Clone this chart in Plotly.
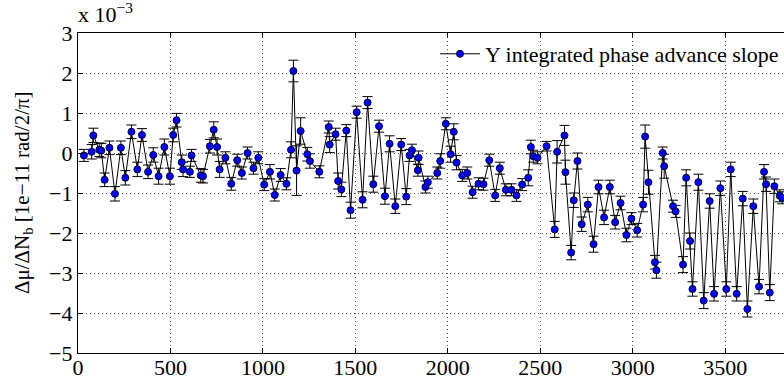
import plotly.graph_objects as go

# x positions (fill-like index) and slope values (units of 1e-3)
x_vals = [32, 74, 83, 115, 126, 144, 170, 200, 232, 256, 289, 321, 346, 379, 407,
          436, 467, 497, 515, 533, 561, 568, 605, 614, 664, 676, 713, 734, 752, 766,
          797, 829, 861, 886, 917, 949, 975, 1007, 1038, 1064, 1096, 1127, 1152, 1165,
          1182, 1204, 1240, 1254, 1305, 1356, 1361, 1393, 1407, 1424, 1451, 1474, 1507,
          1539, 1566, 1597, 1628, 1660, 1685, 1716, 1748, 1775, 1793, 1806, 1838, 1842,
          1879, 1892, 1943, 1959, 1989, 2015, 2032, 2047, 2078, 2105, 2134, 2166, 2193,
          2224, 2256, 2281, 2314, 2344, 2371, 2402, 2435, 2449, 2462, 2485, 2534, 2578,
          2591, 2631, 2636, 2667, 2681, 2701, 2724, 2757, 2788, 2815, 2845, 2876, 2905,
          2934, 2966, 2993, 3024, 3056, 3067, 3085, 3120, 3128, 3162, 3170, 3218, 3232,
          3272, 3289, 3310, 3323, 3355, 3384, 3416, 3440, 3474, 3506, 3530, 3562, 3595,
          3620, 3652, 3683, 3710, 3721, 3741, 3766, 3795, 3808]

y_vals = [-0.06, 0.03, 0.44, 0.08, 0.06, -0.67, 0.13, -1.02, 0.13, -0.62, 0.53, -0.41,
          0.45, -0.47, -0.05, -0.58, 0.15, -0.58, 0.45, 0.82, -0.23, -0.41, -0.47, -0.06,
          -0.56, -0.58, 0.17, 0.58, 0.15, -0.41, -0.12, -0.77, -0.18, -0.50, 0.00, -0.38,
          -0.12, -0.79, -0.47, -1.05, -0.55, -0.77, 0.08, 2.05, -0.44, 0.55, -0.03, -0.20,
          -0.47, 0.65, 0.21, 0.47, -0.70, -0.91, 0.56, -1.43, 1.02, -1.17, 1.26, -0.78,
          0.67, -1.08, 0.23, -1.33, 0.21, -1.09, -0.06, 0.07, -0.43, -0.12, -0.85, -0.73,
          -0.50, -0.20, 0.73, -0.03, 0.53, -0.24, -0.56, -0.50, -0.98, -0.77, -0.78, -0.18,
          -1.06, -0.38, -0.92, -0.92, -1.06, -0.79, -0.62, 0.15, -0.08, -0.12, 0.17, -1.91,
          0.03, 0.44, -0.48, -2.49, -1.18, -0.20, -1.78, -1.29, -2.28, -0.85, -1.61, -0.85,
          -1.73, -1.25, -2.05, -1.64, -1.93, -1.29, 0.41, -0.73, -2.73, -2.93, 0.00, -0.33,
          -1.33, -1.46, -2.79, -0.62, -2.20, -3.40, -0.73, -3.69, -1.20, -3.52, -0.88,
          -3.40, -0.41, -3.52, -1.14, -3.90, -1.33, -3.34, -0.47, -0.78, -3.49, -0.83,
          -1.07, -1.12]

err_vals = [0.15, 0.18, 0.18, 0.17, 0.18, 0.17, 0.17, 0.18, 0.17, 0.18, 0.17, 0.18,
            0.16, 0.17, 0.18, 0.20, 0.20, 0.20, 0.17, 0.17, 0.18, 0.18, 0.14, 0.15,
            0.17, 0.17, 0.17, 0.20, 0.20, 0.20, 0.15, 0.16, 0.15, 0.15, 0.15, 0.15,
            0.15, 0.15, 0.18, 0.15, 0.16, 0.15, 0.20, 0.27, 0.62, 0.33, 0.17, 0.18,
            0.15, 0.15, 0.20, 0.15, 0.20, 0.18, 0.15, 0.20, 0.15, 0.20, 0.15, 0.20,
            0.15, 0.20, 0.20, 0.18, 0.15, 0.20, 0.15, 0.15, 0.15, 0.17, 0.15, 0.15,
            0.15, 0.18, 0.15, 0.20, 0.20, 0.18, 0.15, 0.15, 0.15, 0.15, 0.15, 0.15,
            0.15, 0.15, 0.15, 0.15, 0.15, 0.15, 0.20, 0.17, 0.15, 0.15, 0.12, 0.20,
            0.28, 0.25, 0.30, 0.18, 0.18, 0.20, 0.18, 0.18, 0.20, 0.17, 0.18, 0.17,
            0.17, 0.17, 0.17, 0.15, 0.17, 0.18, 0.29, 0.30, 0.17, 0.20, 0.15, 0.30,
            0.15, 0.15, 0.20, 0.20, 0.20, 0.18, 0.20, 0.20, 0.18, 0.18, 0.18, 0.18,
            0.18, 0.18, 0.18, 0.20, 0.18, 0.18, 0.18, 0.18, 0.20, 0.18, 0.15, 0.15]

x_ticks = [0, 500, 1000, 1500, 2000, 2500, 3000, 3500]
y_ticks = [3, 2, 1, 0, -1, -2, -3, -4, -5]

series_name = "Y integrated phase advance slope"
y_title = "Δμ/ΔN<sub>b</sub> [1e−11 rad/2/π]"
exponent_text = "x 10<sup>−3</sup>"

FONT = "Liberation Serif"

fig = go.Figure()
fig.add_trace(go.Scatter(
    x=x_vals, y=y_vals, mode="lines+markers", name=series_name,
    line=dict(color="black", width=1),
    marker=dict(symbol="circle", size=7, color="#0000ff",
                line=dict(color="#000033", width=1)),
    error_y=dict(type="data", array=err_vals, visible=True,
                 color="black", thickness=1, width=5),
))

fig.update_layout(
    width=784, height=380,
    margin=dict(l=78, r=0, t=33, b=27, autoexpand=False),
    paper_bgcolor="white", plot_bgcolor="white",
    font=dict(family=FONT, size=22, color="black"),
    showlegend=True,
    legend=dict(x=1, y=1, xanchor="right", yanchor="top",
                bgcolor="rgba(255,255,255,0)", borderwidth=0,
                font=dict(family=FONT, size=22, color="black"),
                itemwidth=40, tracegroupgap=0),
    xaxis=dict(range=[0, 3818], tickvals=x_ticks, ticks="inside", ticklen=5,
               tickcolor="black", showline=True, linecolor="black", linewidth=1.2,
               mirror="ticks", showgrid=True, gridcolor="#555", gridwidth=1,
               griddash="1px,3px", zeroline=False, ticklabelstandoff=-6,
               tickfont=dict(family=FONT, size=22, color="black")),
    yaxis=dict(range=[-5, 3], tickvals=y_ticks, ticks="inside", ticklen=5,
               tickcolor="black", showline=True, linecolor="black", linewidth=1.2,
               mirror=False, showgrid=True, gridcolor="#555", gridwidth=1,
               griddash="1px,3px", zeroline=False,
               tickfont=dict(family=FONT, size=22, color="black")),
    annotations=[
        dict(text=exponent_text, xref="paper", yref="paper", x=0, y=1,
             xanchor="left", yanchor="bottom", showarrow=False, xshift=-2, yshift=4,
             font=dict(family=FONT, size=22, color="black")),
        dict(text=y_title, xref="paper", yref="paper", x=0, y=0.5,
             xanchor="center", yanchor="middle", textangle=-90, showarrow=False,
             xshift=-55, font=dict(family=FONT, size=21, color="black")),
    ],
)

fig.write_html("out.html")
